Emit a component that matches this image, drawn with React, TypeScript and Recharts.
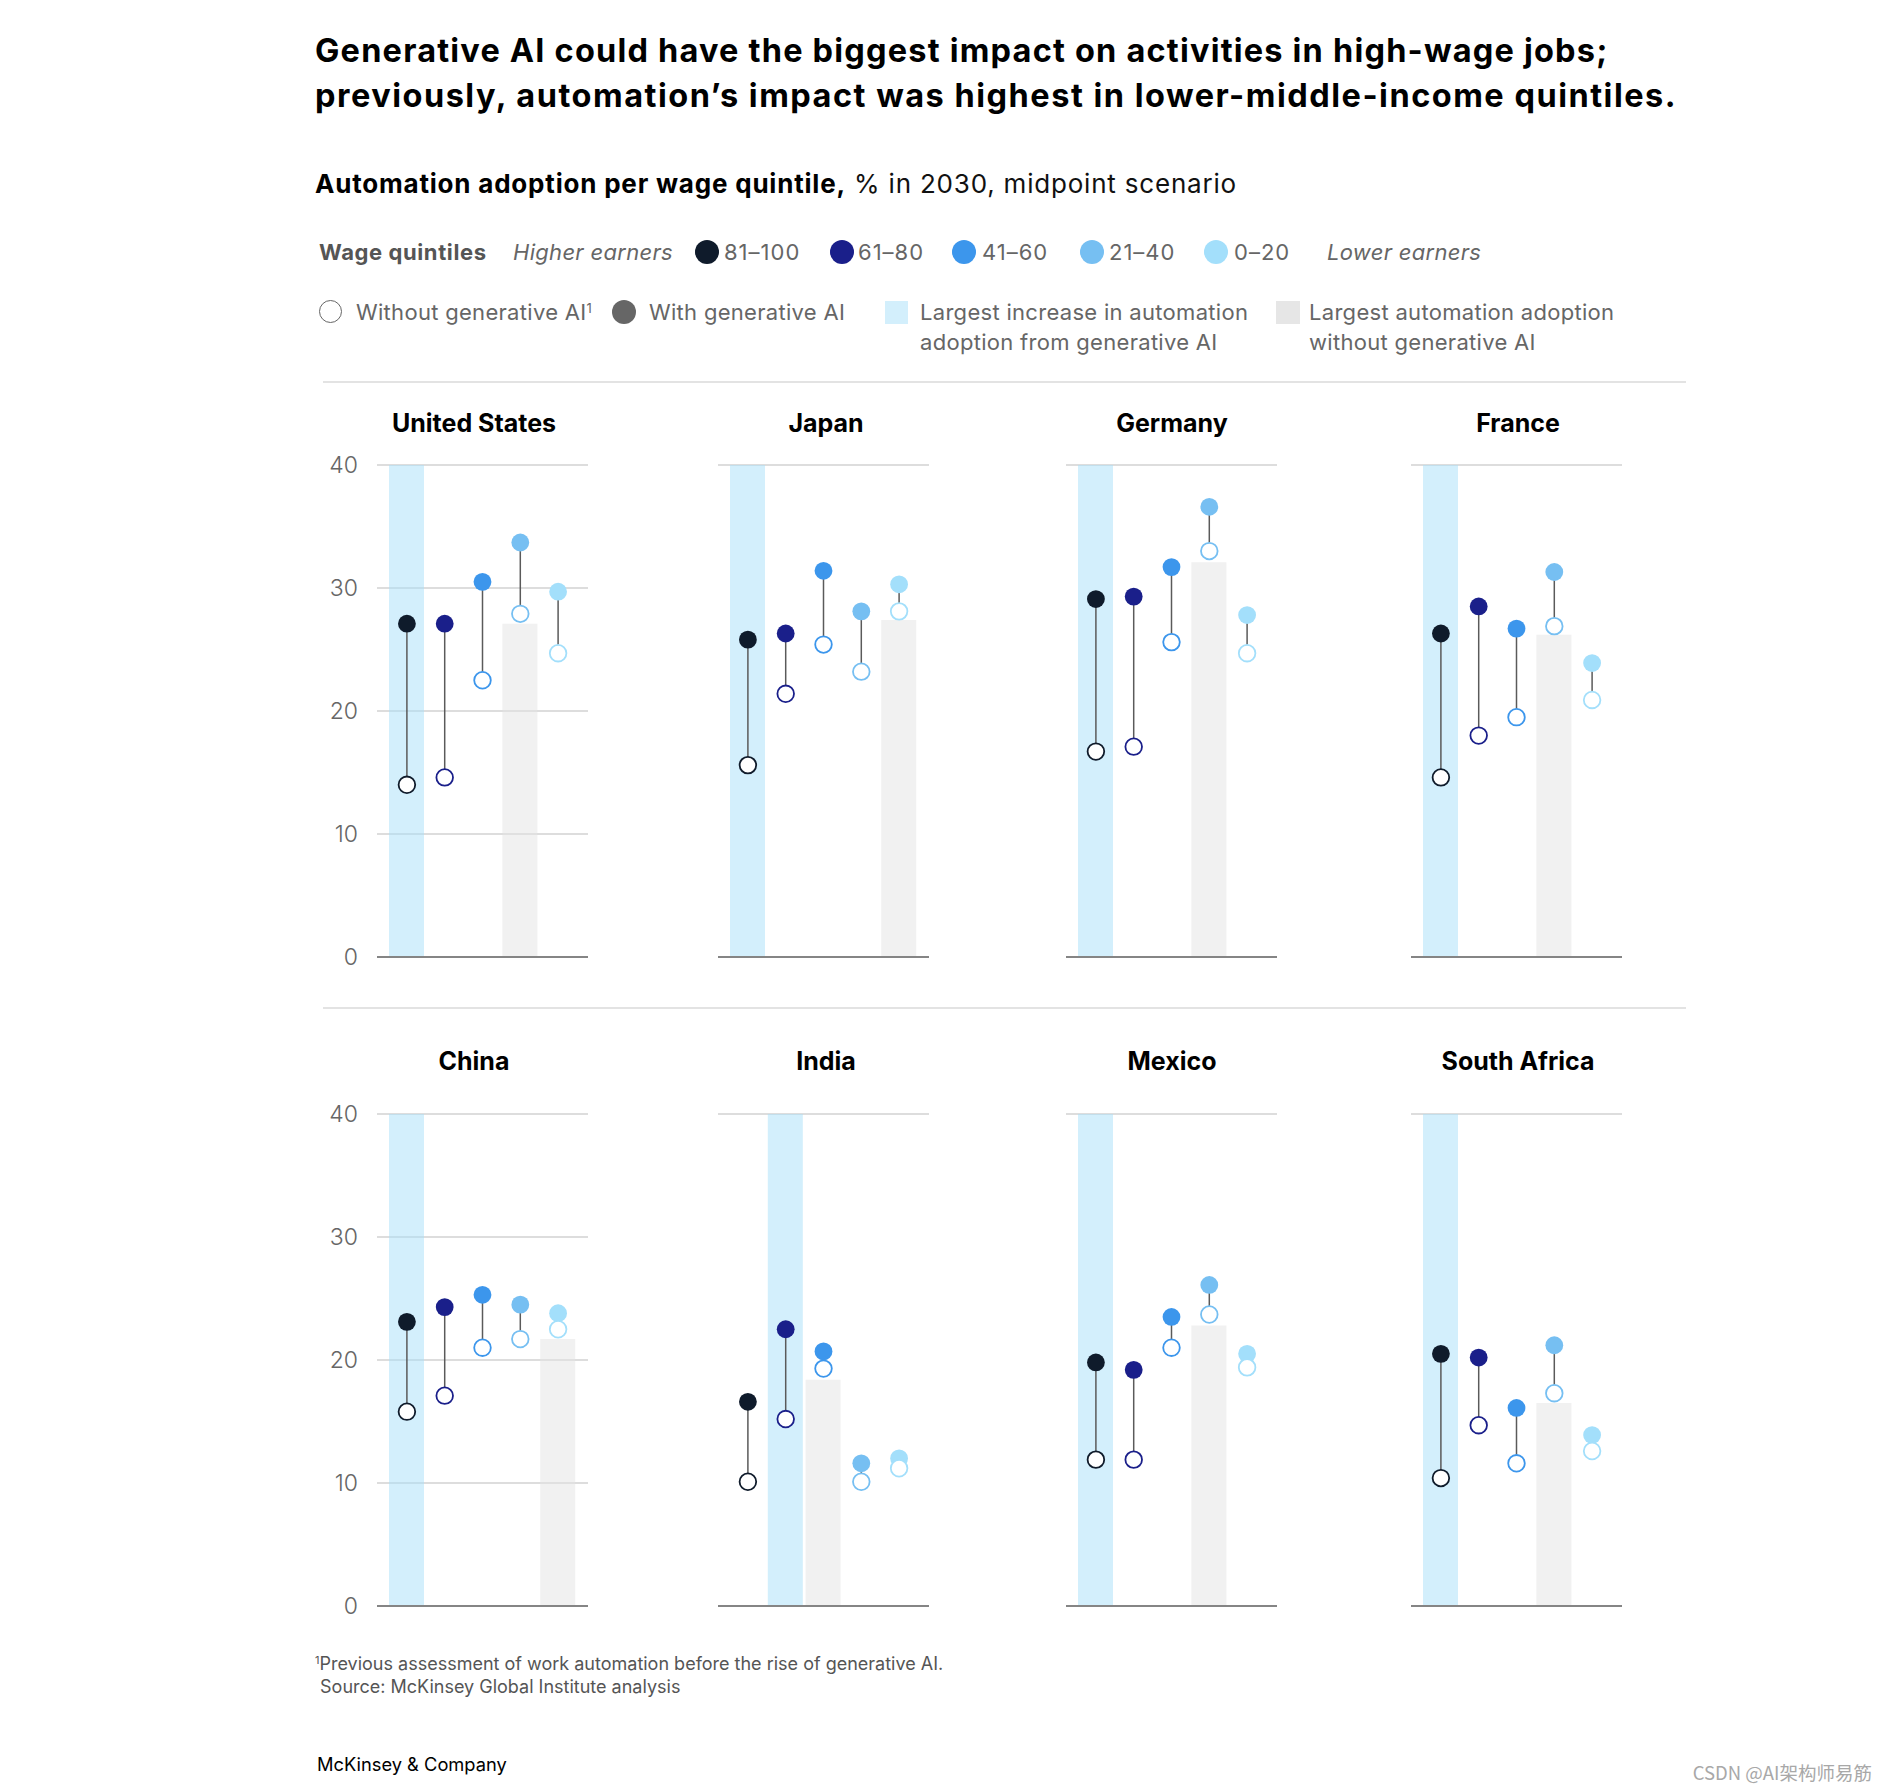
import React from 'react';
import {
  ComposedChart,
  Bar,
  Scatter,
  XAxis,
  YAxis,
  CartesianGrid,
  ReferenceLine,
  ErrorBar,
} from 'recharts';

// ---------- data ----------
const quintiles = ['81–100', '61–80', '41–60', '21–40', '0–20'];
const quintileColors = ['#0f1b2b', '#1a1f8a', '#3c96ec', '#76bff2', '#a3dffb'];
const countries = ['United States', 'Japan', 'Germany', 'France', 'China', 'India', 'Mexico', 'South Africa'];

// % automation adoption in 2030 with generative AI (per quintile, 81–100 … 0–20)
const withGenAI = [
  [27.1, 27.1, 30.5, 33.7, 29.7],
  [25.8, 26.3, 31.4, 28.1, 30.3],
  [29.1, 29.3, 31.7, 36.6, 27.8],
  [26.3, 28.5, 26.7, 31.3, 23.9],
  [23.1, 24.3, 25.3, 24.5, 23.8],
  [16.6, 22.5, 20.7, 11.6, 12.0],
  [19.8, 19.2, 23.5, 26.1, 20.5],
  [20.5, 20.2, 16.1, 21.2, 13.9],
];
// % automation adoption in 2030 without generative AI
const withoutGenAI = [
  [14.0, 14.6, 22.5, 27.9, 24.7],
  [15.6, 21.4, 25.4, 23.2, 28.1],
  [16.7, 17.1, 25.6, 33.0, 24.7],
  [14.6, 18.0, 19.5, 26.9, 20.9],
  [15.8, 17.1, 21.0, 21.7, 22.5],
  [10.1, 15.2, 19.3, 10.1, 11.2],
  [11.9, 11.9, 21.0, 23.7, 19.4],
  [10.4, 14.7, 11.6, 17.3, 12.6],
];
// quintile with the largest increase from generative AI (blue band)
const largestIncreaseIndex = [0, 0, 0, 0, 0, 1, 0, 0];
// quintile with the largest adoption without generative AI (grey bar)
const largestWithoutIndex = [3, 4, 3, 3, 4, 2, 3, 3];
const largestWithoutBar = [27.1, 27.4, 32.1, 26.2, 21.7, 18.4, 22.8, 16.5];
const yDomain = [0, 40];
const yTicks = [0, 10, 20, 30, 40];

// ---------- layout ----------
const FONT = "Inter, 'Noto Sans', 'DejaVu Sans', sans-serif";
const plotLeft = [377, 718, 1066, 1411];
const rowTop = [465, 1114];
const titleCenterX = [474, 826, 1172, 1518];
const titleCenterY = [423, 1061];
const PLOT_W = 211;
const PLOT_H = 492;
const YAXIS_W = 70;
const M = 22;

const colorOf = (q: string) => quintileColors[quintiles.indexOf(q)];

const WithDot = (props: any) => {
  const { cx, cy, payload } = props;
  if (cx == null || cy == null) return null;
  return <circle cx={cx} cy={cy} r={8.9} fill={colorOf(payload.q)} />;
};

const WithoutDot = (props: any) => {
  const { cx, cy, payload } = props;
  if (cx == null || cy == null) return null;
  const col = colorOf(payload.q);
  return <circle cx={cx} cy={cy} r={8.3} fill="#ffffff" stroke={col} strokeWidth={1.8} />;
};

function Panel({ c }: { c: number }) {
  const col = c % 4;
  const row = Math.floor(c / 4);
  const data = quintiles.map((q, i) => ({
    q,
    withAI: withGenAI[c][i],
    withoutAI: withoutGenAI[c][i],
    gap: [withGenAI[c][i] - withoutGenAI[c][i], 0],
    band: i === largestIncreaseIndex[c] ? yDomain[1] : null,
    gray: i === largestWithoutIndex[c] ? largestWithoutBar[c] : null,
  }));
  return (
    <>
      <div
        style={{
          position: 'absolute',
          left: titleCenterX[col] - 150,
          width: 300,
          top: titleCenterY[row] - 15,
          lineHeight: '30px',
          textAlign: 'center',
          fontFamily: FONT,
          fontWeight: 700,
          fontSize: 25,
          color: '#000',
          whiteSpace: 'nowrap',
        }}
      >
        {countries[c]}
      </div>
      <div style={{ position: 'absolute', left: plotLeft[col] - YAXIS_W, top: rowTop[row] - M }}>
        <ComposedChart
          width={YAXIS_W + PLOT_W}
          height={PLOT_H + 2 * M}
          data={data}
          margin={{ top: M, right: 0, bottom: M, left: 0 }}
        >
          <CartesianGrid vertical={false} stroke="#d2d2d2" strokeWidth={1.5} />
          <XAxis dataKey="q" type="category" hide padding={{ left: 11, right: 11 }} />
          <YAxis
            domain={yDomain}
            ticks={yTicks}
            interval={0}
            width={YAXIS_W}
            axisLine={false}
            tickLine={false}
            tickSize={0}
            tickMargin={19}
            tick={col === 0 ? { fontSize: 23, fill: '#666', fontFamily: FONT, fontWeight: 300 } : false}
          />
          <Bar dataKey="band" stackId="bg" barSize={35} fill="#a7dff9" fillOpacity={0.5} isAnimationActive={false} />
          <Bar dataKey="gray" stackId="bg" barSize={35} fill="#e3e3e3" fillOpacity={0.5} isAnimationActive={false} />
          <ReferenceLine y={0} stroke="#858585" strokeWidth={2} />
          <Scatter dataKey="withAI" shape={WithDot} isAnimationActive={false}>
            <ErrorBar dataKey="gap" direction="y" width={0} stroke="#5a5a5a" strokeWidth={1.5} />
          </Scatter>
          <Scatter dataKey="withoutAI" shape={WithoutDot} isAnimationActive={false} />
        </ComposedChart>
      </div>
    </>
  );
}

const T = ({ x, y, children, style }: any) => (
  <div
    style={{
      position: 'absolute',
      left: x,
      top: y,
      fontFamily: FONT,
      whiteSpace: 'nowrap',
      ...style,
    }}
  >
    {children}
  </div>
);

const legendDotX = [707, 842, 964, 1092, 1216];
const legendLabelX = [724, 858, 982, 1109, 1234];

export default function App() {
  const legendText = { fontSize: 22, lineHeight: '30px', color: '#666', letterSpacing: 0.3 };
  return (
    <div style={{ position: 'absolute', left: 0, top: 0, width: 1888, height: 1790, background: '#fff', overflow: 'hidden' }}>
      {/* Title */}
      <T x={315} y={28} style={{ fontSize: 32.5, fontWeight: 700, lineHeight: '45px', color: '#000', letterSpacing: 1.2 }}>
        Generative AI could have the biggest impact on activities in high-wage jobs;
        <br />
        <span style={{ letterSpacing: 1.5 }}>previously, automation’s impact was highest in lower-middle-income quintiles.</span>
      </T>
      {/* Subtitle */}
      <T x={315} y={169} style={{ fontSize: 26, lineHeight: '30px', color: '#111', letterSpacing: 0.8 }}>
        <span style={{ fontWeight: 700, color: '#000' }}>Automation adoption per wage quintile,</span> % in 2030, midpoint scenario
      </T>

      {/* Legend row 1 */}
      <T x={319} y={237} style={{ ...legendText, fontWeight: 700, color: '#555', letterSpacing: 0.6 }}>Wage quintiles</T>
      <T x={513} y={237} style={{ ...legendText, fontStyle: 'italic' }}>Higher earners</T>
      {quintiles.map((q, i) => (
        <React.Fragment key={q}>
          <div
            style={{
              position: 'absolute',
              left: legendDotX[i] - 12,
              top: 252 - 12,
              width: 24,
              height: 24,
              borderRadius: 12,
              background: quintileColors[i],
            }}
          />
          <T x={legendLabelX[i]} y={237} style={{ ...legendText, letterSpacing: 1.0 }}>{q}</T>
        </React.Fragment>
      ))}
      <T x={1327} y={237} style={{ ...legendText, fontStyle: 'italic' }}>Lower earners</T>

      {/* Legend row 2 */}
      <div style={{ position: 'absolute', left: 331 - 12, top: 312 - 12, width: 21, height: 21, borderRadius: 12, border: '1.5px solid #666', background: '#fff' }} />
      <T x={356} y={297} style={legendText}>
        Without generative AI<sup style={{ fontSize: 13, verticalAlign: 'top', lineHeight: '22px' }}>1</sup>
      </T>
      <div style={{ position: 'absolute', left: 624 - 12, top: 312 - 12, width: 24, height: 24, borderRadius: 12, background: '#666' }} />
      <T x={649} y={297} style={legendText}>With generative AI</T>
      <div style={{ position: 'absolute', left: 885, top: 301, width: 23, height: 23, background: '#d3effc' }} />
      <T x={920} y={297} style={legendText}>
        Largest increase in automation
        <br />
        adoption from generative AI
      </T>
      <div style={{ position: 'absolute', left: 1276, top: 301, width: 24, height: 23, background: '#e6e6e6' }} />
      <T x={1309} y={297} style={legendText}>
        Largest automation adoption
        <br />
        without generative AI
      </T>

      {/* separators */}
      <div style={{ position: 'absolute', left: 323, top: 381, width: 1363, height: 1.5, background: '#e3e3e3' }} />
      <div style={{ position: 'absolute', left: 323, top: 1007, width: 1363, height: 1.5, background: '#e3e3e3' }} />

      {countries.map((_, c) => (
        <Panel key={c} c={c} />
      ))}

      {/* Footnotes */}
      <T x={315} y={1652} style={{ fontSize: 18, lineHeight: '23px', color: '#555' }}>
        <sup style={{ fontSize: 11, verticalAlign: 'top', lineHeight: '16px' }}>1</sup>Previous assessment of work automation before the rise of generative AI.
        <br />
        &nbsp;Source: McKinsey Global Institute analysis
      </T>
      <T x={317} y={1752} style={{ fontSize: 18.3, lineHeight: '24px', color: '#000' }}>McKinsey &amp; Company</T>
      <div
        style={{
          position: 'absolute',
          right: 1888 - 1872,
          top: 1760,
          fontFamily: "'Noto Sans CJK SC', 'Noto Sans', sans-serif",
          fontSize: 18.5,
          lineHeight: '24px',
          color: '#a8a8a8',
          whiteSpace: 'nowrap',
        }}
      >
        CSDN @AI架构师易筋
      </div>
    </div>
  );
}
